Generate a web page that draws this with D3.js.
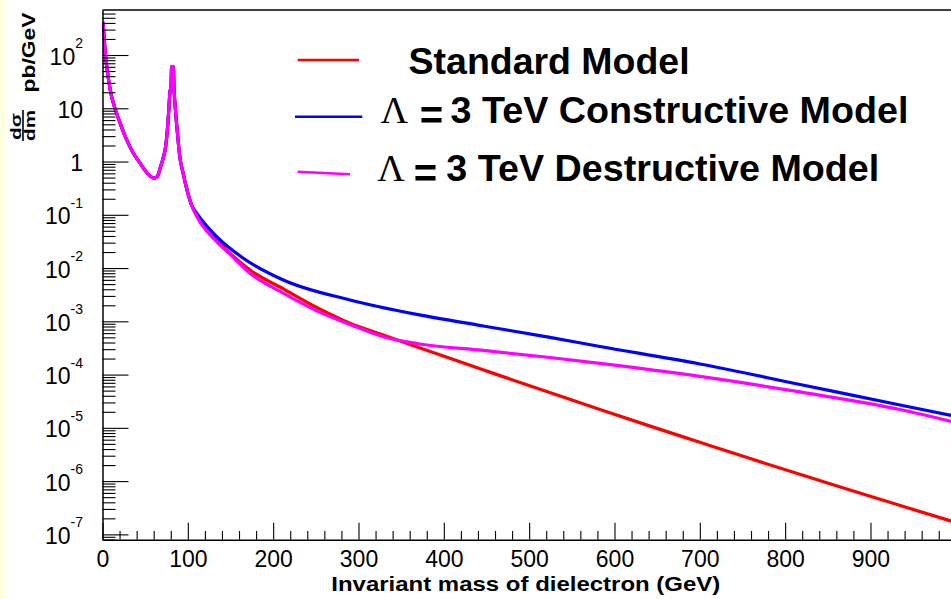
<!DOCTYPE html>
<html>
<head>
<meta charset="utf-8">
<script src="https://cdn.jsdelivr.net/npm/d3@7"></script>
<style>
  html, body { margin: 0; padding: 0; background: #fff; }
  svg { display: block; }
</style>
</head>
<body>
<svg id="chart" width="951" height="599"></svg>
<script>
// Resonance region, identical for the three models (mass in GeV, dσ/dm in pb/GeV)
const lowMass = [0.5, 1.5, 3, 5, 7, 10, 15, 20, 28, 36, 44.5, 50, 54.3, 60, 64, 68, 71, 74, 76,
                 77.7, 79, 80.3, 81, 83, 83.8, 85.5, 87.5, 90.6, 94.6, 99, 104];
const lowXsec = [417, 263, 120, 60.3, 35.5, 18.6, 9.55, 5.62, 2.63, 1.45, 0.912, 0.676, 0.562, 0.490,
                 0.519, 0.794, 1.15, 1.91, 3.89, 9.33, 19.9, 25.1, 60.3, 60.3, 24.0, 9.33, 3.89, 1.23,
                 0.589, 0.295, 0.158];

// Continuum region, where the models separate
const smMass = [110, 141.6, 172.9, 211.9, 251, 290, 329, 368, 407, 446, 485, 525, 583, 640, 700,
                760, 818, 875, 935, 1000];
const smXsec = [0.0993, 0.0252, 9.20e-3, 4.06e-3, 1.82e-3, 9.20e-4, 5.53e-4, 3.33e-4, 2.02e-4,
                1.23e-4, 7.50e-5, 4.54e-5, 2.21e-5, 1.10e-5, 5.36e-6, 2.62e-6, 1.33e-6, 6.89e-7,
                3.48e-7, 1.67e-7];
const constructiveMass = [110.4, 133.8, 165, 211.9, 290, 368.2, 446.3, 524.4, 583, 700.2, 817.4,
                934.6, 1000];
const constructiveXsec = [0.107, 0.0389, 0.0153, 5.98e-3, 2.52e-3, 1.35e-3, 8.18e-4, 4.98e-4,
                3.37e-4, 1.58e-4, 6.53e-5, 2.69e-5, 1.65e-5];
const destructiveMass = [110, 133.8, 149.4, 172.9, 211.9, 251, 290, 329.1, 368.2, 446.3, 524.4,
                583, 700.2, 817.4, 934.6, 1000];
const destructiveXsec = [0.0973, 0.0313, 0.0182, 7.98e-3, 3.37e-3, 1.57e-3, 8.73e-4, 5.15e-4,
                3.84e-4, 2.84e-4, 2.09e-4, 1.62e-4, 9.23e-5, 4.72e-5, 2.21e-5, 1.26e-5];

const legendLabels = ["Standard Model", "3 TeV Constructive Model", "3 TeV Destructive Model"];
const lambdaSymbol = "\u039B";
const xMajorTicks = [0, 100, 200, 300, 400, 500, 600, 700, 800, 900];
const yDecades = [-7, -6, -5, -4, -3, -2, -1, 0, 1, 2];
const xTitle = "Invariant mass of dielectron (GeV)";
const yTitleNum = "d\u03C3";
const yTitleDen = "dm";
const yTitleUnit = "pb/GeV";

const W = 951, H = 599;
const SANS = "'Liberation Sans', Arial, Helvetica, sans-serif";
const SERIF = "'Liberation Serif', 'Times New Roman', serif";

const svg = d3.select("#chart");
svg.append("rect").attr("width", W).attr("height", H).attr("fill", "#fff");
svg.append("rect").attr("x", 0).attr("y", 0).attr("width", 5).attr("height", H).attr("fill", "#fdfde0");

const x = d3.scaleLinear().domain([0, 1000]).range([102.5, 955.8]);
const y = d3.scaleLog().domain([Math.pow(10, -7.1), Math.pow(10, 2.845)]).range([539.7, 10]);

// plot area clip
svg.append("clipPath").attr("id", "plotClip")
  .append("rect")
  .attr("x", x(0)).attr("y", y.range()[1])
  .attr("width", x(1000) - x(0)).attr("height", y.range()[0] - y.range()[1]);

// curves: shared resonance part followed by each model's continuum
const pairs = (ms, vs) => ms.map((m, i) => [m, vs[i]]);
const series = [
  { points: pairs(lowMass, lowXsec).concat(pairs(smMass, smXsec)), color: "#ff0000" },
  { points: pairs(lowMass, lowXsec).concat(pairs(constructiveMass, constructiveXsec)), color: "#0000ff" },
  { points: pairs(lowMass, lowXsec).concat(pairs(destructiveMass, destructiveXsec)), color: "#ff00ff" }
];
const line = d3.line()
  .x(d => x(d[0]))
  .y(d => y(d[1]))
  .curve(d3.curveMonotoneX);

const curves = svg.append("g").attr("clip-path", "url(#plotClip)");
series.forEach(s => {
  curves.append("path")
    .datum(s.points)
    .attr("d", line)
    .attr("fill", "none")
    .attr("stroke", s.color)
    .attr("stroke-width", 3.2)
    .attr("stroke-linejoin", "round");
});

// y axis: decade ticks and 2..9 sub-ticks, drawn inside the frame
const yMinor = [];
for (let e = -8; e <= 2; e++) {
  for (let k = 2; k <= 9; k++) {
    const v = k * Math.pow(10, e);
    if (v >= y.domain()[0] && v <= y.domain()[1]) yMinor.push(v);
  }
}
const yAxisG = svg.append("g").attr("transform", `translate(${x(0)},0)`);
yAxisG.call(d3.axisLeft(y).tickValues(yDecades.map(e => Math.pow(10, e)))
  .tickSize(-26).tickSizeOuter(0).tickFormat(""));
const yMinorG = svg.append("g").attr("transform", `translate(${x(0)},0)`);
yMinorG.call(d3.axisLeft(y).tickValues(yMinor).tickSize(-13).tickSizeOuter(0).tickFormat(""));
yMinorG.select(".domain").remove();

// x axis
const xAxisG = svg.append("g").attr("transform", `translate(0,${y.range()[0]})`);
xAxisG.call(d3.axisBottom(x).tickValues(xMajorTicks).tickSize(-17).tickSizeOuter(0)
  .tickPadding(10.5).tickFormat(d3.format("d")));
const xMinor = d3.range(20, 1000, 20).filter(v => v % 100 !== 0);
const xMinorG = svg.append("g").attr("transform", `translate(0,${y.range()[0]})`);
xMinorG.call(d3.axisBottom(x).tickValues(xMinor).tickSize(-8.7).tickSizeOuter(0).tickFormat(""));
xMinorG.select(".domain").remove();

svg.selectAll(".tick line").attr("stroke", "#000").attr("stroke-width", 1.1);
svg.selectAll(".domain").attr("stroke", "#000").attr("stroke-width", 1.5);
xAxisG.selectAll("text")
  .attr("font-family", SANS).attr("font-size", 23).attr("fill", "#000");

// top frame edge
svg.append("line")
  .attr("x1", x(0)).attr("x2", W)
  .attr("y1", y.range()[1]).attr("y2", y.range()[1])
  .attr("stroke", "#000").attr("stroke-width", 1.5);

// y tick labels with exponents
const yLabels = svg.append("g").attr("font-family", SANS).attr("fill", "#000");
yDecades.forEach(e => {
  const t = yLabels.append("text")
    .attr("x", 83).attr("y", y(Math.pow(10, e)) + 9.5)
    .attr("text-anchor", "end").attr("font-size", 23);
  if (e === 0) t.text("1");
  else if (e === 1) t.text("10");
  else {
    t.append("tspan").text("10");
    t.append("tspan").attr("font-size", 14).attr("dy", -16.5).text(String(e));
  }
});

// x title
svg.append("text")
  .attr("x", 331.3).attr("y", 591)
  .attr("font-family", SANS).attr("font-weight", "bold").attr("font-size", 21)
  .attr("textLength", 389).attr("lengthAdjust", "spacingAndGlyphs")
  .attr("fill", "#000")
  .text(xTitle);

// y title: dσ/dm fraction followed by units, rotated and stretched along the text
const yt = svg.append("g").attr("font-family", SANS).attr("font-weight", "bold").attr("fill", "#000");
function rotatedText(str, size, baseX, centerY, length) {
  const t = yt.append("text")
    .attr("text-anchor", "middle").attr("font-size", size)
    .text(str);
  const natural = t.node().getComputedTextLength() || length;
  t.attr("transform", `translate(${baseX},${centerY}) rotate(-90) scale(${length / natural},1)`);
  return t;
}
rotatedText(yTitleNum, 14, 21, 126.5, 27);
yt.append("line")
  .attr("x1", 23).attr("x2", 23).attr("y1", 110).attr("y2", 141)
  .attr("stroke", "#000").attr("stroke-width", 1.6);
rotatedText(yTitleDen, 15, 35, 125.5, 31);
rotatedText(yTitleUnit, 19, 35, 52.5, 80);

// legend
const legendRows = [
  { color: "#ff0000", x1: 297.7, y1: 60, x2: 359, y2: 60, baseline: 73.8,
    lambda: null, textX: 408.6, textLen: 281 },
  { color: "#0000ff", x1: 295, y1: 116.7, x2: 362.3, y2: 116.7, baseline: 123.3,
    lambda: { x: 380.5, eqX: 419.7, eqY: 128.7 }, textX: 450.5, textLen: 458 },
  { color: "#ff00ff", x1: 297.7, y1: 171.7, x2: 350, y2: 174.3, baseline: 181,
    lambda: { x: 377.2, eqX: 413.7, eqY: 187 }, textX: 446.3, textLen: 433 }
];
const legend = svg.append("g");
legendRows.forEach((r, i) => {
  legend.append("line")
    .attr("x1", r.x1).attr("y1", r.y1).attr("x2", r.x2).attr("y2", r.y2)
    .attr("stroke", r.color).attr("stroke-width", 2.6);
  if (r.lambda) {
    legend.append("text")
      .attr("x", r.lambda.x).attr("y", r.baseline)
      .attr("font-family", SERIF).attr("font-size", 38).attr("fill", "#000")
      .text(lambdaSymbol);
    legend.append("text")
      .attr("x", r.lambda.eqX).attr("y", r.lambda.eqY)
      .attr("font-family", SANS).attr("font-weight", "bold").attr("font-size", 40).attr("fill", "#000")
      .text("=");
  }
  legend.append("text")
    .attr("x", r.textX).attr("y", r.baseline)
    .attr("font-family", SANS).attr("font-weight", "bold").attr("font-size", 36)
    .attr("textLength", r.textLen).attr("lengthAdjust", "spacingAndGlyphs")
    .attr("fill", "#000")
    .text(legendLabels[i]);
});
</script>
</body>
</html>
